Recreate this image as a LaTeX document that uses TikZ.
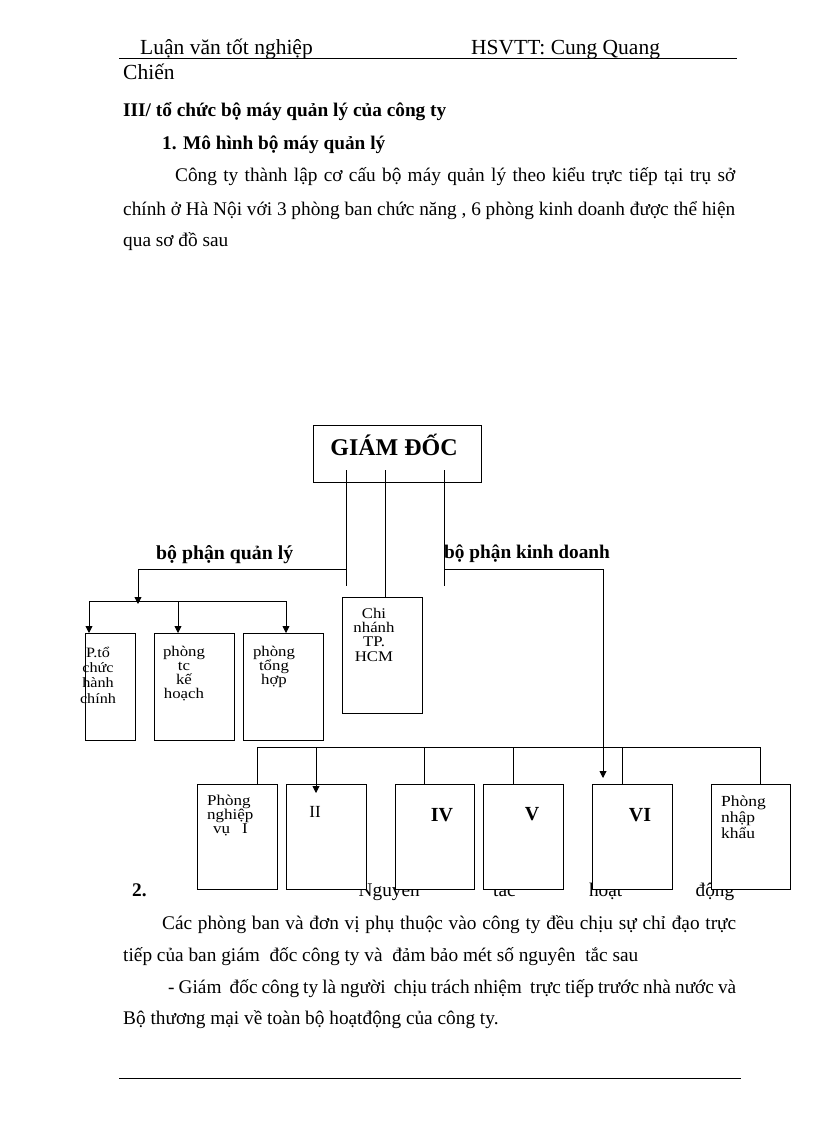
\documentclass[tikz,border=0pt]{standalone}
\usepackage{fontspec}
\usepackage{graphicx}
\setmainfont{Liberation Serif}
\usetikzlibrary{arrows.meta}
\newcommand\cstack[2]{\scalebox{1}[0.88]{\vtop{\baselineskip=#1\lineskiplimit=-100pt\lineskip=0pt\halign{\hfil##\hfil\cr#2\crcr}}}}
\newcommand\lstack[2]{\scalebox{1}[0.88]{\vtop{\baselineskip=#1\lineskiplimit=-100pt\lineskip=0pt\halign{##\hfil\cr#2\crcr}}}}
\begin{document}
\begin{tikzpicture}[x=1pt,y=-1pt,
  hdr/.style={anchor=base west,inner sep=0pt,font=\fontsize{21.5}{26}\selectfont},
  body/.style={anchor=base west,inner sep=0pt,font=\fontsize{19.3}{23}\selectfont},
  bhead/.style={anchor=base west,inner sep=0pt,font=\fontsize{19.3}{23}\selectfont\bfseries},
  lab/.style={anchor=base west,inner sep=0pt,font=\fontsize{19.8}{23}\selectfont\bfseries},
  bx/.style={draw=black,fill=white,line width=0.9pt,anchor=north west,inner sep=0pt},
  btxt/.style={anchor=base,inner sep=0pt,font=\fontsize{16.8}{14}\selectfont},
  ltxt/.style={anchor=base west,inner sep=0pt,font=\fontsize{17}{14}\selectfont},
  roman/.style={anchor=base,inner sep=0pt,font=\fontsize{20}{22}\selectfont\bfseries},
  conn/.style={draw=black,line width=0.9pt},
  arr/.style={conn,-{Triangle[length=7pt,width=7pt]}},
  rule/.style={draw=black,line width=0.8pt}]
\useasboundingbox (0,0) rectangle (816,1123);
\fill[white] (0,0) rectangle (816,1123);

% header
\node[hdr] (h1) at (140,55) {Luận văn tốt nghiệp};
\node[hdr] (h2) at (471,55) {HSVTT:\ Cung Quang};
\draw[rule] (119,58) -- (737,58);
\node[hdr] (h3) at (123,80) {Chiến};

% headings and paragraph
\node[bhead] (t1) at (123,117) {III/ tổ chức bộ máy quản lý của công ty};
\node[bhead] (t2) at (162,150) {1. Mô hình bộ máy quản lý};
\node[body] (p1) at (175,182) {\makebox[560pt][s]{Công ty thành lập cơ cấu bộ máy quản lý theo kiểu trực tiếp tại trụ sở}};
\node[body] (p2) at (123,216) {\makebox[612pt][s]{chính ở Hà Nội với 3 phòng ban chức năng , 6 phòng kinh doanh được thể hiện}};
\node[body] (p3) at (123,246) {qua sơ đồ sau};

% text under the lower boxes
\node[body] (s2) at (132,896) {\makebox[602pt][s]{\textbf{2.} Nguyên tắc hoạt động}};
\node[body] (q1) at (162,929) {\makebox[574pt][s]{Các phòng ban và đơn vị phụ thuộc vào công ty đều chịu sự chỉ đạo trực}};
\node[body] (q2) at (123,961) {tiếp của ban giám\ \ đốc công ty và\ \ đảm bảo mét số nguyên\ \ tắc sau};
\node[body] (q3) at (168,993) {\makebox[568pt][s]{- Giám\ \ đốc công ty là người\ \ chịu trách nhiệm\ \ trực tiếp trước nhà nước và}};
\node[body] (q4) at (123,1024) {Bộ thương mại về toàn bộ hoạtđộng của công ty.};
\draw[rule] (119,1078) -- (741,1078);

% boxes
\node[bx,minimum width=168pt,minimum height=57pt] (gd) at (313,425) {};
\node[bx,minimum width=50pt,minimum height=107pt] (b1) at (85,633) {};
\node[bx,minimum width=80pt,minimum height=107pt] (b2) at (154,633) {};
\node[bx,minimum width=80pt,minimum height=107pt] (b3) at (243,633) {};
\node[bx,minimum width=80pt,minimum height=116pt] (chi) at (342,597) {};
\node[bx,minimum width=80pt,minimum height=105pt] (pnv) at (197,784) {};
\node[bx,minimum width=80pt,minimum height=105pt] (ii) at (286,784) {};
\node[bx,minimum width=79pt,minimum height=105pt] (iv) at (395,784) {};
\node[bx,minimum width=80pt,minimum height=105pt] (v) at (483,784) {};
\node[bx,minimum width=80pt,minimum height=105pt] (vi) at (592,784) {};
\node[bx,minimum width=79pt,minimum height=105pt] (pnk) at (711,784) {};

% box texts
\node[anchor=base,inner sep=0pt,font=\fontsize{24}{28}\selectfont\bfseries] (gdt) at (394,455) {GIÁM ĐỐC};
\node[anchor=base,inner sep=0pt,font=\fontsize{16.2}{15}\selectfont] (b1t) at (98,657) {\cstack{17.5pt}{P.tổ\cr chức\cr hành\cr chính}};
\node[btxt] (b2t) at (184,656) {\cstack{16.1pt}{phòng\cr tc\cr kế\cr hoạch}};
\node[btxt] (b3t) at (274,656) {\cstack{16.1pt}{phòng\cr tổng\cr hợp}};
\node[btxt] (chit) at (374,618) {\cstack{16.3pt}{Chi\cr nhánh\cr TP.\cr HCM}};
\node[ltxt] (pnvt) at (207,805) {\lstack{16.2pt}{Phòng\cr nghiệp\cr\hspace{6pt}vụ\hspace{12pt}I}};
\node[anchor=base,inner sep=0pt,font=\fontsize{17}{20}\selectfont] (iit) at (315,817) {II};
\node[roman] (ivt) at (442,821) {IV};
\node[roman] (vt) at (532,820) {V};
\node[roman] (vit) at (640,821) {VI};
\node[ltxt,font=\fontsize{17.5}{16}\selectfont] (pnkt) at (721,806) {\lstack{18.2pt}{Phòng\cr nhập\cr khẩu}};

% labels
\node[lab] (lq) at (156,559) {bộ phận quản lý};
\node[lab,font=\fontsize{19.3}{23}\selectfont\bfseries] (lk) at (444,558) {bộ phận kinh doanh};

% connector coordinates
\coordinate (gL) at (346,470);
\coordinate (gM) at (385,470);
\coordinate (gR) at (444,470);
\coordinate (eL) at (346,586);
\coordinate (eR) at (444,586);
\coordinate (jL) at (346,569);
\coordinate (cL) at (138,569);
\coordinate (aL) at (138,604);
\coordinate (jR) at (444,569);
\coordinate (cR) at (603,569);
\coordinate (aR) at (603,778);
\coordinate (h1) at (89,601);
\coordinate (h2) at (178,601);
\coordinate (h3) at (286,601);
\coordinate (k1) at (257,747);
\coordinate (k2) at (316,747);
\coordinate (k3) at (424,747);
\coordinate (k4) at (513,747);
\coordinate (k5) at (622,747);
\coordinate (k6) at (760,747);
\coordinate (a2) at (316,793);

% connectors
\draw[conn] (gL) -- (eL);
\draw[conn] (gR) -- (eR);
\draw[conn] (gM) -- (gM |- chi.north);
\draw[arr] (jL) -- (cL) -- (aL);
\draw[arr] (jR) -- (cR) -- (aR);
\draw[conn] (h1) -- (h3);
\draw[arr] (h1) -- (h1 |- b1.north);
\draw[arr] (h2) -- (h2 |- b2.north);
\draw[arr] (h3) -- (h3 |- b3.north);
\draw[conn] (k1) -- (k6);
\draw[conn] (k1) -- (k1 |- pnv.north);
\draw[arr] (k2) -- (a2);
\draw[conn] (k3) -- (k3 |- iv.north);
\draw[conn] (k4) -- (k4 |- v.north);
\draw[conn] (k5) -- (k5 |- vi.north);
\draw[conn] (k6) -- (k6 |- pnk.north);
\end{tikzpicture}
\end{document}
